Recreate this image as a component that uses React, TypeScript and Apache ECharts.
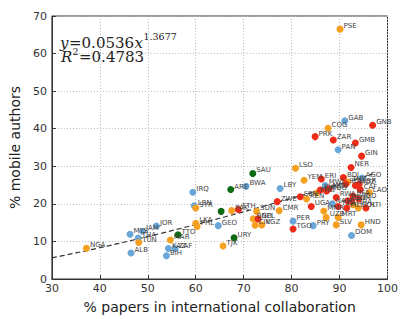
import React, { useEffect, useRef } from "react";
import * as echarts from "echarts";

// Low income (red)
const lowNames = ["GNB", "PRK", "ZAR", "GMB", "GIN", "NER", "ERI", "BDI", "SLE", "MOZ", "LBR", "MWI", "MDG", "CAF", "SEN", "RWA", "BFA", "TCD", "BEN", "UGA", "TZA", "MLI", "SOM", "HTI", "ZWE", "ETH", "NPL", "TGO", "KHM"];
const lowX = [96.9, 84.9, 88.7, 93.3, 94.6, 92.4, 86.2, 90.8, 91.3, 93.3, 94.1, 87.8, 87.3, 94.3, 81.8, 89.3, 92.8, 94.0, 91.7, 84.1, 89.7, 91.5, 92.5, 95.5, 77.0, 68.9, 73.0, 80.3, 86.0];
const lowY = [40.9, 37.9, 37.0, 36.2, 32.7, 29.7, 26.6, 27.0, 25.3, 24.9, 25.3, 24.0, 23.4, 23.8, 21.9, 21.7, 22.1, 21.3, 20.8, 19.3, 19.3, 18.9, 20.8, 18.9, 20.6, 18.5, 16.0, 13.3, 23.7];

// Lower-middle income (orange)
const lmNames = ["PSE", "COG", "LSO", "YEM", "ZMB", "PNG", "KEN", "LAO", "GHA", "BOL", "MMR", "UZB", "MRT", "SLV", "HND", "CMR", "SDN", "PAK", "BGD", "CIV", "KGZ", "TJK", "SYR", "LKA", "PHL", "MAR", "TUN", "NGA"];
const lmX = [90.1, 87.6, 80.8, 82.6, 91.7, 85.2, 83.1, 96.2, 92.8, 93.9, 86.7, 87.2, 89.7, 89.3, 94.5, 77.4, 72.7, 67.5, 72.0, 72.4, 73.8, 65.7, 60.0, 60.0, 60.3, 54.7, 48.1, 37.2];
const lmY = [66.5, 40.1, 29.5, 26.3, 25.8, 22.9, 21.3, 23.0, 19.8, 18.9, 18.1, 16.4, 16.4, 14.4, 14.4, 18.2, 18.0, 18.2, 16.0, 14.3, 14.4, 8.8, 18.9, 14.8, 14.0, 10.4, 9.7, 8.2];

// Upper-middle income (blue)
const umNames = ["GAB", "PAN", "AGO", "MWI", "NAM", "LBY", "BWA", "PER", "PRY", "DOM", "IRQ", "LBN", "GEO", "JOR", "MYS", "JAM", "THA", "ALB", "KAZ", "ZAF", "BIH"];
const umX = [91.1, 89.7, 94.7, 87.0, 88.5, 77.6, 70.5, 80.3, 84.5, 92.5, 59.4, 59.7, 64.7, 51.8, 46.3, 48.9, 48.0, 46.5, 54.3, 55.7, 53.9];
const umY = [42.1, 34.4, 26.9, 24.9, 20.0, 24.1, 24.7, 15.4, 14.2, 11.6, 23.1, 19.5, 14.2, 14.1, 11.9, 12.7, 10.9, 6.9, 8.1, 8.1, 6.2];

// High income (green)
const hiNames = ["SAU", "ARE", "", "URY", "TTO"];
const hiX = [71.9, 67.3, 65.3, 68.0, 56.3];
const hiY = [28.1, 23.8, 18.0, 11.0, 11.8];

// Power-law fit shown on the chart: y = FIT_A * x ^ FIT_B
const FIT_A = 0.0536;
const FIT_B = 1.3677;
const FIT_R2 = 0.4783;
const FIT_X_START = 30;
const FIT_X_END = 97;

const xTicks = [30, 40, 50, 60, 70, 80, 90, 100];
const yTicks = [0, 10, 20, 30, 40, 50, 60, 70];

const build = (names: string[], xs: number[], ys: number[]) =>
  names.map((n, i) => [xs[i], ys[i], n]);

const fitLine: number[][] = [];
for (let x = FIT_X_START; x <= FIT_X_END; x += 1) {
  fitLine.push([x, FIT_A * Math.pow(x, FIT_B)]);
}

const labelCfg = {
  show: true,
  position: "right" as const,
  distance: 0,
  offset: [0, -3],
  fontSize: 7,
  color: "#444",
  fontFamily: "DejaVu Sans",
  formatter: (p: any) => p.data[2],
};

const scatter = (data: any[], color: string) => ({
  type: "scatter",
  data,
  symbolSize: 7,
  itemStyle: { color, opacity: 1 },
  label: labelCfg,
  z: 3,
});

const serif = "DejaVu Serif";
const txt = (x: number, y: number, text: string, size: number, italic = false) => ({
  type: "text",
  x,
  y,
  z: 100,
  style: {
    text,
    fontFamily: serif,
    fontSize: size,
    fontStyle: italic ? "italic" : "normal",
    fill: "#222",
    verticalAlign: "middle",
    align: "left",
  },
});

export default function App() {
  const ref = useRef<HTMLDivElement>(null);
  useEffect(() => {
    if (!ref.current) return;
    const chart = echarts.init(ref.current, undefined, { renderer: "svg" });
    const axisFont = { fontSize: 11, color: "#333", fontFamily: "DejaVu Sans" };
    chart.setOption({
      animation: false,
      backgroundColor: "#fff",
      grid: {
        left: 45,
        right: 4,
        top: 16,
        bottom: 31,
        show: true,
        borderColor: "#333",
        borderWidth: 1,
      },
      xAxis: {
        type: "value",
        min: xTicks[0],
        max: xTicks[xTicks.length - 1],
        interval: 10,
        name: "% papers in international collaboration",
        nameLocation: "middle",
        nameGap: 21,
        nameTextStyle: { fontSize: 14, color: "#222", fontFamily: "DejaVu Sans" },
        axisLine: { show: true, lineStyle: { color: "#333" } },
        axisTick: { show: true, inside: true, length: 4, lineStyle: { color: "#333" } },
        axisLabel: { ...axisFont, margin: 4 },
        splitLine: { show: true, lineStyle: { color: "#bbb", type: [1, 2], width: 1 } },
      },
      yAxis: {
        type: "value",
        min: yTicks[0],
        max: yTicks[yTicks.length - 1],
        interval: 10,
        name: "% mobile authors",
        nameLocation: "middle",
        nameGap: 25,
        nameTextStyle: { fontSize: 14, color: "#222", fontFamily: "DejaVu Sans" },
        axisLine: { show: true, lineStyle: { color: "#333" } },
        axisTick: { show: true, inside: true, length: 4, lineStyle: { color: "#333" } },
        axisLabel: { ...axisFont, margin: 5 },
        splitLine: { show: true, lineStyle: { color: "#bbb", type: [1, 2], width: 1 } },
      },
      graphic: [
        txt(60, 43, "y", 15, true),
        txt(69, 43, "=" + FIT_A.toFixed(4), 15),
        txt(134.5, 43, "x", 15, true),
        txt(143.5, 36, FIT_B.toFixed(4), 9.5),
        txt(61, 57, "R", 15, true),
        txt(72.5, 51, "2", 9.5),
        txt(79, 57, "=" + FIT_R2.toFixed(4), 15),
      ],
      series: [
        {
          type: "line",
          data: fitLine,
          showSymbol: false,
          symbol: "none",
          lineStyle: { color: "#333", width: 1.2, type: [5, 3] },
          z: 2,
          silent: true,
        },
        scatter(build(umNames, umX, umY), "#6aa7d8"),
        scatter(build(hiNames, hiX, hiY), "#0b6a12"),
        scatter(build(lmNames, lmX, lmY), "#f5a020"),
        scatter(build(lowNames, lowX, lowY), "#ee2b17"),
      ],
    });
    return () => chart.dispose();
  }, []);
  return <div ref={ref} style={{ width: 401, height: 319, position: "absolute", left: 0, top: 0 }} />;
}
